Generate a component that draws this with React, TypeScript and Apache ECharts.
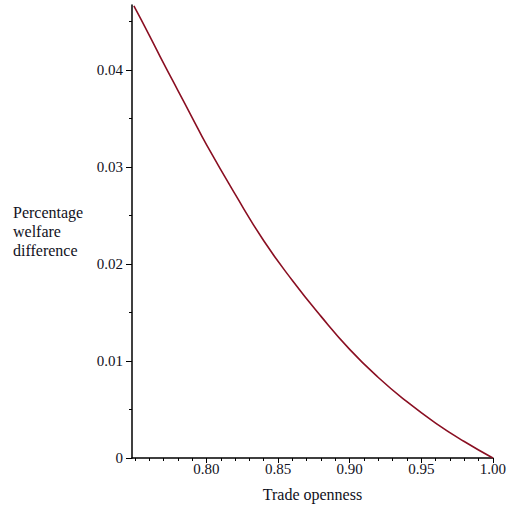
import React, { useEffect, useRef } from "react";
import * as echarts from "echarts";

const opennessX = [0.7493, 0.76, 0.77, 0.78, 0.79, 0.8, 0.82, 0.84, 0.86, 0.88, 0.9, 0.92, 0.94, 0.96, 0.98, 1.0];
const welfareDiff = [0.0466, 0.0436, 0.0407, 0.0379, 0.0351, 0.0323, 0.0272, 0.0224, 0.0183, 0.0146, 0.0112, 0.0083, 0.0058, 0.0036, 0.0017, 0.0];

const xMajorTicks = [0.8, 0.85, 0.9, 0.95, 1.0];
const xMinorTicks = [0.75, 0.76, 0.77, 0.78, 0.79, 0.81, 0.82, 0.83, 0.84, 0.86, 0.87, 0.88, 0.89, 0.91, 0.92, 0.93, 0.94, 0.96, 0.97, 0.98, 0.99];
const yMajorTicks = [0, 0.01, 0.02, 0.03, 0.04];
const yMinorTicks = [0.005, 0.015, 0.025, 0.035, 0.045];

const xTitle = "Trade openness";
const yTitle = "Percentage\nwelfare\ndifference";

const FONT = "'Liberation Serif', 'Times New Roman', serif";
const TEXT = "#111122";
const LINE = "#000";

export default function App() {
  const ref = useRef<HTMLDivElement>(null);
  useEffect(() => {
    if (!ref.current) return;
    const chart = echarts.init(ref.current, undefined, { renderer: "svg" });
    const xRange = { min: 0.748, max: 1.0 };
    const yRange = { min: 0, max: 0.0467 };
    chart.setOption({
      animation: false,
      backgroundColor: "#fff",
      grid: { left: 132, right: 14, top: 5, bottom: 52, containLabel: false },
      xAxis: [
        {
          type: "value",
          ...xRange,
          position: "bottom",
          axisLine: { show: true, onZero: false, lineStyle: { color: LINE, width: 1.5 } },
          axisTick: { show: true, length: 5, customValues: xMajorTicks, lineStyle: { color: LINE, width: 1 } },
          axisLabel: {
            show: true,
            customValues: xMajorTicks,
            formatter: (v: number) => v.toFixed(2),
            margin: 3,
            color: TEXT,
            fontFamily: FONT,
            fontSize: 15,
          },
          splitLine: { show: false },
          name: xTitle,
          nameLocation: "middle",
          nameGap: 28,
          nameTextStyle: { color: TEXT, fontFamily: FONT, fontSize: 16 },
        },
        {
          type: "value",
          ...xRange,
          position: "bottom",
          offset: 0,
          axisLine: { show: false },
          axisTick: { show: true, length: 3, customValues: xMinorTicks, lineStyle: { color: LINE, width: 1 } },
          axisLabel: { show: false },
          splitLine: { show: false },
        },
      ],
      yAxis: [
        {
          type: "value",
          ...yRange,
          position: "left",
          axisLine: { show: true, onZero: false, lineStyle: { color: LINE, width: 1.5 } },
          axisTick: { show: true, length: 6, customValues: yMajorTicks, lineStyle: { color: LINE, width: 1 } },
          axisLabel: {
            show: true,
            customValues: yMajorTicks,
            formatter: (v: number) => (v === 0 ? "0" : v.toFixed(2)),
            margin: 9,
            color: TEXT,
            fontFamily: FONT,
            fontSize: 15,
          },
          splitLine: { show: false },
        },
        {
          type: "value",
          ...yRange,
          position: "left",
          offset: 0,
          axisLine: { show: false },
          axisTick: { show: true, length: 3, customValues: yMinorTicks, lineStyle: { color: LINE, width: 1 } },
          axisLabel: { show: false },
          splitLine: { show: false },
        },
      ],
      graphic: [
        {
          type: "text",
          left: 13,
          top: 203,
          style: {
            text: yTitle,
            fill: TEXT,
            font: `16px ${FONT}`,
            lineHeight: 19,
          },
        },
      ],
      series: [
        {
          type: "line",
          xAxisIndex: 0,
          yAxisIndex: 0,
          data: opennessX.map((x, i) => [x, welfareDiff[i]]),
          showSymbol: false,
          smooth: true,
          lineStyle: { color: "#8a0f22", width: 1.6 },
        },
      ],
    });
    return () => chart.dispose();
  }, []);
  return (
    <div
      ref={ref}
      style={{ position: "fixed", left: 0, top: 0, width: 509, height: 510, background: "#fff" }}
    />
  );
}
